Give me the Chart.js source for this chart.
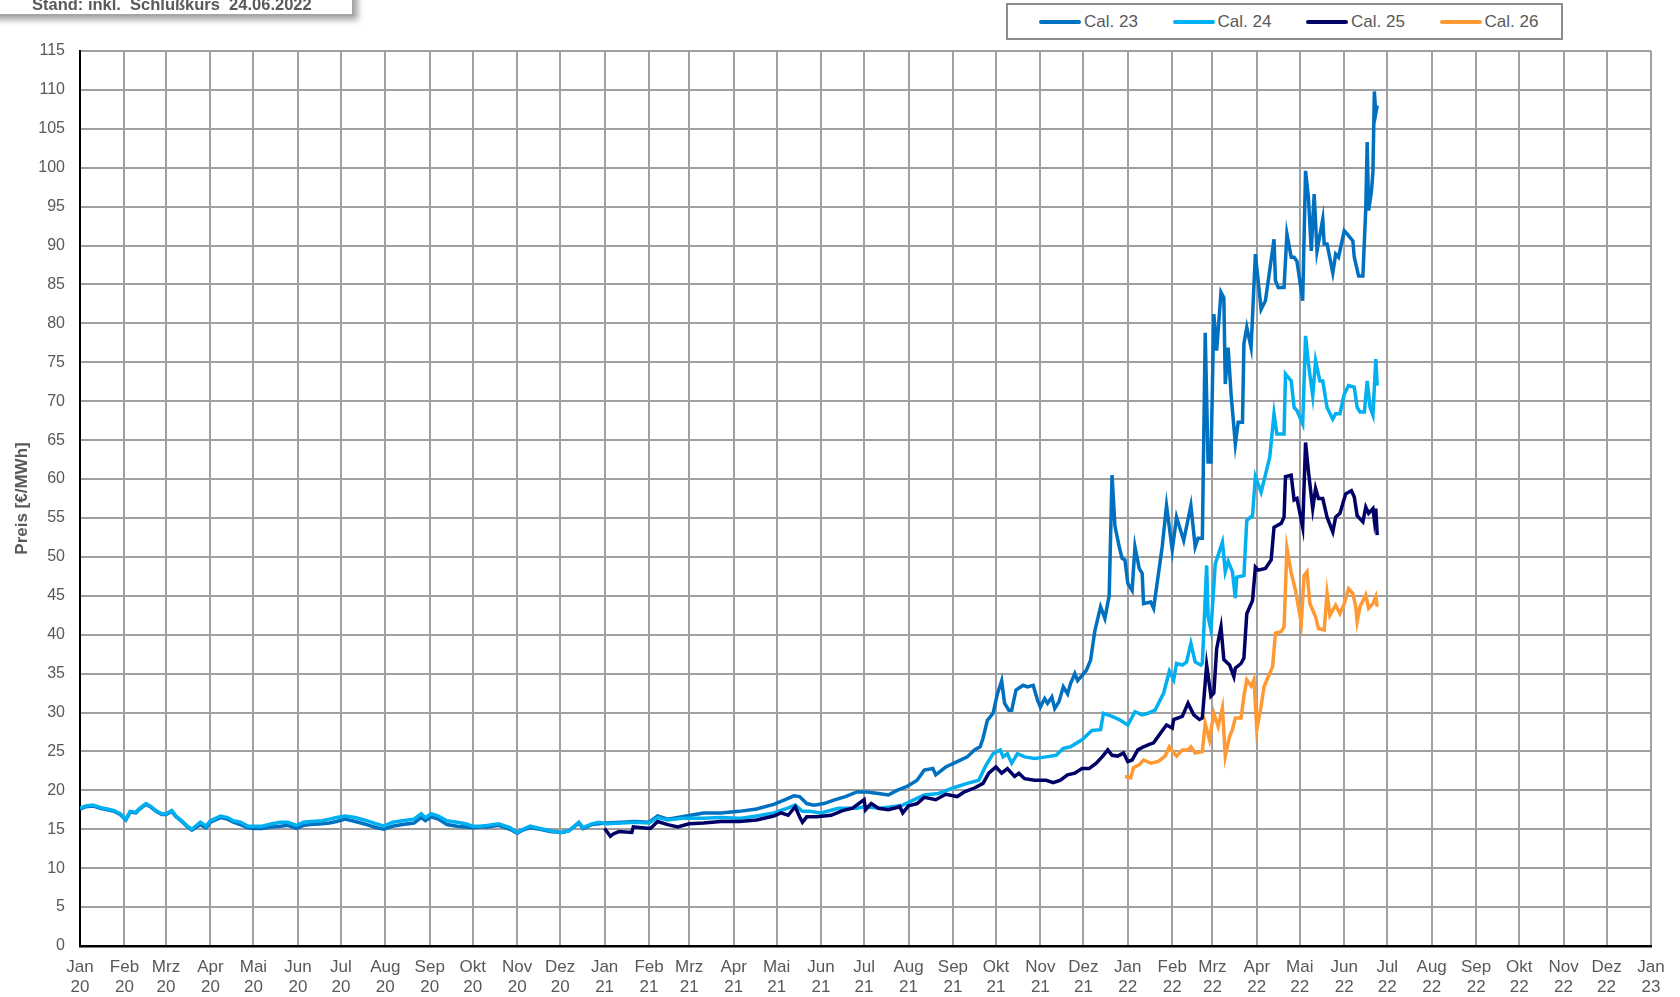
<!DOCTYPE html>
<html lang="de">
<head>
<meta charset="utf-8">
<title>Preis Cal. 23 – Cal. 26</title>
<script src="https://cdn.jsdelivr.net/npm/chart.js@4.4.1/dist/chart.umd.min.js"></script>
<style>
  html, body { margin: 0; padding: 0; background: #fff; }
  body {
    width: 1680px; height: 997px; position: relative; overflow: hidden;
    font-family: "Liberation Sans", Arial, sans-serif;
  }
  #chart { position: absolute; left: 0; top: 0; }
  .stand-box {
    position: absolute; left: -10px; top: -30px; width: 360px; height: 42px;
    background: #fff; border: 2px solid #a6a6a6;
    box-shadow: 4px 4px 6px rgba(0, 0, 0, 0.35);
  }
  .stand-box span {
    position: absolute; left: 40px; bottom: 1px; font-weight: bold; font-size: 16.5px;
    line-height: 17px; color: #595959; white-space: pre;
  }
  .legend-box {
    position: absolute; left: 1006px; top: 3px; width: 522px; height: 33px;
    border: 2px solid #8c8c8c; background: #fff;
    display: flex; align-items: center; padding-left: 31px; box-sizing: content-box;
  }
  .legend-item { display: flex; align-items: center; width: 133.5px; flex: none; font-size: 17px; color: #595959; }
  .legend-item i { display: inline-block; width: 42px; height: 4px; margin-right: 3px; border-radius: 2px; }
</style>
</head>
<body>
<canvas id="chart" width="1680" height="997"></canvas>
<div class="stand-box"><span>Stand: inkl.  Schlußkurs  24.06.2022</span></div>
<div class="legend-box" id="legend"></div>
<script>
// Tage seit 01.01.2020 / Preise in €/MWh
const seriesNames = ["Cal. 23", "Cal. 24", "Cal. 25", "Cal. 26"];
const seriesColors = ["#0070C0", "#00B0F0", "#000066", "#FF9933"];
const monthNames = ["Jan", "Feb", "Mrz", "Apr", "Mai", "Jun", "Jul", "Aug", "Sep", "Okt", "Nov", "Dez"];
const axisYears = [2020, 2021, 2022, 2023];
const yAxisTitle = "Preis [€/MWh]";

const cal23Days = [0, 4, 9, 14, 19, 24, 28, 32, 35, 39, 41, 46, 49, 53, 57, 60, 64, 67, 71, 75, 78, 84, 88, 91, 98, 103, 107, 112, 117, 122, 127, 134, 140, 145, 151, 156, 161, 169, 174, 179, 185, 192, 200, 207, 212, 218, 225, 233, 238, 241, 245, 250, 256, 263, 269, 274, 279, 284, 292, 300, 305, 309, 314, 321, 328, 336, 341, 348, 351, 357, 362,
  367, 378, 387, 397, 403, 410, 420, 435, 447, 460, 472, 484, 492, 498, 502, 507, 512, 519, 527, 534, 542, 549, 557, 564, 570, 577, 584, 589, 595, 597, 604, 612, 619, 624, 628, 630, 633, 637, 640, 643, 645, 648, 650, 653, 658, 661, 665, 668, 670, 673, 675, 678, 680, 683, 686, 689, 691, 694, 696, 702, 705, 708, 712, 715, 718, 720, 722, 725, 727, 729,
  731, 734, 736, 739, 741, 742, 747, 749, 755, 758, 762, 765, 770, 775, 778, 780, 783, 785, 787, 789, 791, 793, 796, 798, 799, 801, 803, 806, 808, 811, 812, 814, 817, 820, 824, 827, 829, 833, 834, 836, 840, 842, 845, 847, 849, 853, 855, 857, 859, 861, 863, 867, 868, 870, 874, 876, 878, 882, 884, 888, 889, 892, 895, 897, 898, 899, 901, 902, 903, 904, 905];
const cal23Values = [17.6, 17.9, 18.0, 17.7, 17.5, 17.3, 16.9, 16.2, 17.2, 17.1, 17.5, 18.2, 17.9, 17.3, 16.9, 16.9, 17.3, 16.6, 16.0, 15.3, 14.9, 15.6, 15.2, 15.9, 16.5, 16.3, 15.9, 15.6, 15.2, 15.1, 15.1, 15.3, 15.4, 15.5, 15.1, 15.5, 15.6, 15.7, 15.8, 16.0, 16.3, 16.0, 15.6, 15.2, 15.0, 15.4, 15.6, 15.8, 16.5, 16.1, 16.6, 16.3, 15.6, 15.4, 15.3, 15.2, 15.3, 15.3, 15.5, 15.0, 14.5, 14.9, 15.2, 15.0, 14.7, 14.6, 14.8, 15.8, 15.1, 15.6, 15.7,
  15.8, 15.9, 16.0, 15.9, 16.7, 16.3, 16.6, 17.1, 17.1, 17.3, 17.6, 18.2, 18.8, 19.3, 19.2, 18.3, 18.1, 18.3, 18.8, 19.2, 19.8, 19.8, 19.6, 19.4, 20.0, 20.5, 21.3, 22.6, 22.8, 22.0, 23.0, 23.7, 24.3, 25.2, 25.6, 26.7, 29.0, 29.9, 32.4, 34.1, 31.2, 30.3, 30.3, 32.9, 33.5, 33.3, 33.5, 31.6, 30.7, 31.8, 31.2, 32.0, 30.5, 31.4, 33.3, 32.4, 33.7, 35.0, 34.1, 35.4, 36.7, 40.5, 43.6, 42.1, 45.0, 60.5, 54.0, 51.3, 49.8, 49.6,
  46.6, 45.7, 51.3, 48.5, 47.9, 44.0, 44.2, 43.4, 51.3, 56.6, 50.9, 55.1, 52.1, 56.6, 51.3, 52.4, 52.4, 78.8, 62.2, 62.2, 81.2, 76.5, 84.0, 83.3, 72.2, 76.9, 71.0, 64.5, 67.3, 67.3, 77.4, 79.5, 76.9, 88.9, 81.8, 82.9, 85.5, 90.8, 85.5, 84.6, 84.6, 91.5, 88.5, 88.5, 88.0, 82.9, 99.6, 96.2, 89.3, 96.6, 89.3, 93.4, 90.2, 90.2, 86.5, 88.9, 88.5, 91.9, 91.5, 90.6, 88.5, 86.1, 86.1, 94.7, 103.3, 94.5, 97.0, 99.5, 109.8, 107.0, 108.0];

const cal24Days = [0, 4, 9, 14, 19, 24, 28, 32, 35, 39, 41, 46, 49, 53, 57, 60, 64, 67, 71, 75, 78, 84, 88, 91, 98, 103, 107, 112, 117, 122, 127, 134, 140, 145, 151, 156, 161, 169, 174, 179, 185, 192, 200, 207, 212, 218, 225, 233, 238, 241, 245, 250, 256, 263, 269, 274, 279, 284, 292, 300, 305, 309, 314, 321, 328, 336, 341, 348, 351, 357, 362,
  367, 378, 387, 397, 403, 410, 420, 435, 447, 460, 472, 484, 492, 499, 504, 509, 517, 529, 542, 547, 559, 574, 582, 589, 599, 609, 619, 627, 632, 637, 642, 644, 647, 650, 654, 659, 666, 674, 681, 686, 691, 699, 706, 712, 714, 720, 725,
  731, 736, 741, 745, 750, 756, 760, 763, 765, 769, 772, 775, 778, 782, 783, 786, 787, 789, 792, 797, 799, 801, 804, 806, 807, 812, 814, 818, 820, 824, 826, 830, 833, 835, 840, 841, 845, 847, 849, 853, 855, 857, 860, 862, 865, 867, 870, 874, 876, 879, 882, 885, 889, 891, 893, 896, 898, 900, 902, 904, 905];
const cal24Values = [17.7, 18.0, 18.1, 17.8, 17.6, 17.4, 17.0, 16.3, 17.3, 17.2, 17.6, 18.3, 18.0, 17.4, 17.0, 17.0, 17.4, 16.7, 16.1, 15.4, 15.0, 15.9, 15.4, 16.1, 16.7, 16.5, 16.1, 15.9, 15.4, 15.4, 15.4, 15.7, 15.9, 15.9, 15.5, 15.9, 16.0, 16.1, 16.3, 16.5, 16.7, 16.5, 16.1, 15.7, 15.4, 15.9, 16.1, 16.3, 17.0, 16.5, 17.0, 16.7, 16.1, 15.9, 15.7, 15.4, 15.4, 15.5, 15.7, 15.2, 14.6, 15.0, 15.4, 15.1, 14.8, 14.6, 14.8, 15.9, 15.2, 15.7, 15.9,
  15.7, 15.8, 15.9, 15.8, 16.5, 16.2, 16.4, 16.4, 16.5, 16.4, 16.7, 17.1, 17.6, 18.1, 17.3, 17.3, 17.1, 17.7, 17.7, 17.9, 17.7, 18.1, 18.8, 19.4, 19.6, 20.3, 20.9, 21.3, 23.2, 24.7, 25.2, 24.3, 24.7, 23.5, 24.7, 24.3, 24.1, 24.3, 24.5, 25.4, 25.6, 26.5, 27.7, 27.8, 29.9, 29.5, 29.1,
  28.4, 30.1, 29.7, 29.9, 30.3, 32.5, 35.3, 34.2, 36.3, 36.1, 36.5, 38.9, 36.5, 36.1, 36.3, 48.9, 42.3, 40.6, 49.1, 51.9, 48.1, 49.4, 48.1, 44.7, 47.4, 47.6, 54.7, 55.3, 60.3, 58.3, 59.8, 62.8, 68.4, 65.8, 65.8, 73.5, 72.6, 69.2, 68.8, 67.1, 78.4, 74.8, 70.7, 75.2, 72.6, 72.6, 69.2, 67.7, 68.4, 68.4, 70.9, 72.0, 71.8, 69.2, 68.6, 68.6, 72.6, 69.2, 68.2, 75.4, 72.0];

const cal25Days = [366, 370, 372, 376, 385, 386, 392, 398, 403, 410, 417, 425, 435, 447, 460, 472, 484, 489, 494, 499, 502, 504, 507, 514, 524, 532, 539, 547, 548, 552, 557, 564, 572, 574, 578, 584, 589, 597, 604, 612, 617, 624, 630, 634, 639, 643, 647, 652, 655, 659, 666, 674, 679, 684, 689, 694, 699, 704, 709, 714, 717, 720, 724, 728,
  731, 734, 738, 742, 746, 749, 754, 758, 762, 763, 769, 773, 777, 781, 783, 786, 789, 791, 793, 796, 798, 802, 805, 806, 810, 812, 814, 818, 820, 822, 827, 831, 833, 838, 840, 841, 845, 847, 849, 853, 855, 857, 860, 862, 864, 867, 870, 874, 876, 879, 883, 887, 889, 891, 895, 897, 899, 902, 903, 904, 905];
const cal25Values = [15.1, 14.1, 14.4, 14.7, 14.6, 15.3, 15.2, 15.1, 16.0, 15.6, 15.3, 15.7, 15.8, 16.0, 16.0, 16.2, 16.7, 17.1, 16.8, 17.9, 16.6, 15.9, 16.6, 16.6, 16.8, 17.4, 17.7, 18.8, 17.5, 18.3, 17.7, 17.5, 17.9, 17.1, 18.0, 18.3, 19.1, 18.8, 19.5, 19.2, 19.8, 20.3, 20.9, 22.2, 23.0, 22.2, 22.8, 21.8, 22.2, 21.5, 21.3, 21.3, 21.0, 21.3, 22.0, 22.2, 22.8, 22.8, 23.5, 24.5, 25.2, 24.5, 24.4, 24.8,
  23.7, 23.9, 25.2, 25.6, 25.9, 26.1, 27.4, 28.4, 28.0, 29.1, 29.5, 31.2, 29.7, 29.1, 29.3, 36.1, 32.1, 32.5, 38.2, 41.0, 36.8, 36.1, 34.6, 35.7, 36.3, 37.0, 42.7, 44.4, 48.7, 48.3, 48.5, 49.6, 53.8, 54.3, 55.1, 60.3, 60.5, 57.3, 57.5, 53.8, 64.7, 61.0, 56.2, 58.8, 57.5, 57.5, 55.1, 53.2, 55.1, 55.6, 58.1, 58.5, 57.7, 55.3, 54.5, 56.4, 55.6, 56.2, 54.7, 56.2, 52.8];

const cal26Days = [729, 733, 735, 739, 742, 747, 752, 757, 760, 763, 765, 769, 773, 775, 778, 783, 785, 788, 791, 794, 797, 799, 802, 804, 806, 810, 812, 814, 817, 819, 821, 824, 826, 829, 832, 834, 838, 840, 842, 845, 848, 852, 854, 856, 858, 862, 864, 868, 870, 872, 876, 879, 882, 885, 888, 890, 891, 893, 897, 899, 902, 904, 905];
const cal26Values = [21.8, 21.6, 22.9, 23.3, 23.9, 23.5, 23.7, 24.4, 25.6, 24.8, 24.4, 25.2, 25.2, 25.6, 24.8, 25.0, 28.6, 26.5, 29.9, 28.2, 30.6, 24.4, 26.9, 27.8, 29.3, 29.3, 32.1, 34.2, 33.4, 34.2, 27.8, 30.8, 33.3, 34.6, 35.9, 40.2, 40.4, 41.0, 51.1, 47.9, 45.7, 41.5, 47.6, 48.1, 44.0, 42.3, 40.8, 40.6, 45.3, 42.5, 43.8, 42.7, 44.0, 45.9, 45.3, 43.6, 41.7, 43.6, 45.1, 43.4, 44.0, 44.9, 43.6];

document.addEventListener("DOMContentLoaded", () => {
  const DAY = 86400000;
  const start = Date.UTC(axisYears[0], 0, 1);

  // Monatsanfänge als Tick-Positionen, Jan 20 bis Jan 23
  const monthTicks = [];
  const monthLabels = [];
  for (let y = axisYears[0]; y <= axisYears[axisYears.length - 1]; y++) {
    for (let m = 0; m < 12; m++) {
      if (y === axisYears[axisYears.length - 1] && m > 0) break;
      monthTicks.push(Math.round((Date.UTC(y, m, 1) - start) / DAY));
      monthLabels.push([monthNames[m], String(y % 100)]);
    }
  }

  const toPoints = (days, values) => days.map((d, i) => ({ x: d, y: values[i] }));
  const allDays = [cal23Days, cal24Days, cal25Days, cal26Days];
  const allValues = [cal23Values, cal24Values, cal25Values, cal26Values];

  const datasets = seriesNames.map((name, i) => ({
    label: name,
    data: toPoints(allDays[i], allValues[i]),
    borderColor: seriesColors[i],
    backgroundColor: seriesColors[i],
    borderWidth: 3.5,
    pointRadius: 0,
    tension: 0,
    fill: false,
    order: seriesNames.length - i,
  }));

  // Legende im Kasten oben rechts
  const legend = document.getElementById("legend");
  seriesNames.forEach((name, i) => {
    legend.insertAdjacentHTML("beforeend",
      `<div class="legend-item"><i style="background:${seriesColors[i]}"></i>${name}</div>`);
  });

  Chart.defaults.font.family = '"Liberation Sans", Arial, sans-serif';
  const gridColor = "#a0a0a0";

  new Chart(document.getElementById("chart").getContext("2d"), {
    type: "line",
    data: { datasets },
    options: {
      responsive: false,
      animation: false,
      devicePixelRatio: 1,
      layout: { padding: { top: 51, right: 29, bottom: 0, left: 0 } },
      plugins: { legend: { display: false }, tooltip: { enabled: false } },
      scales: {
        x: {
          type: "linear",
          min: 0,
          max: monthTicks[monthTicks.length - 1],
          afterBuildTicks: (scale) => {
            scale.ticks = monthTicks.map((v) => ({ value: v }));
          },
          afterFit: (scale) => { scale.height = 51; },
          grid: { color: gridColor, lineWidth: 2, drawTicks: false },
          border: { color: "#000", width: 2.5 },
          ticks: {
            autoSkip: false,
            maxRotation: 0,
            padding: 12,
            color: "#595959",
            font: { size: 17, lineHeight: 1.15 },
            callback: (value, index) => monthLabels[index],
          },
        },
        y: {
          min: 0,
          max: 115,
          afterFit: (scale) => { scale.width = 80; },
          grid: { color: gridColor, lineWidth: 2, drawTicks: false },
          border: { color: "#000", width: 2 },
          ticks: { stepSize: 5, maxTicksLimit: 40, padding: 15, color: "#595959", font: { size: 16 } },
          title: {
            display: true,
            text: yAxisTitle,
            color: "#595959",
            font: { size: 17, weight: "bold" },
            padding: { top: 12, bottom: 0 },
          },
        },
      },
    },
  });
});
</script>
</body>
</html>
